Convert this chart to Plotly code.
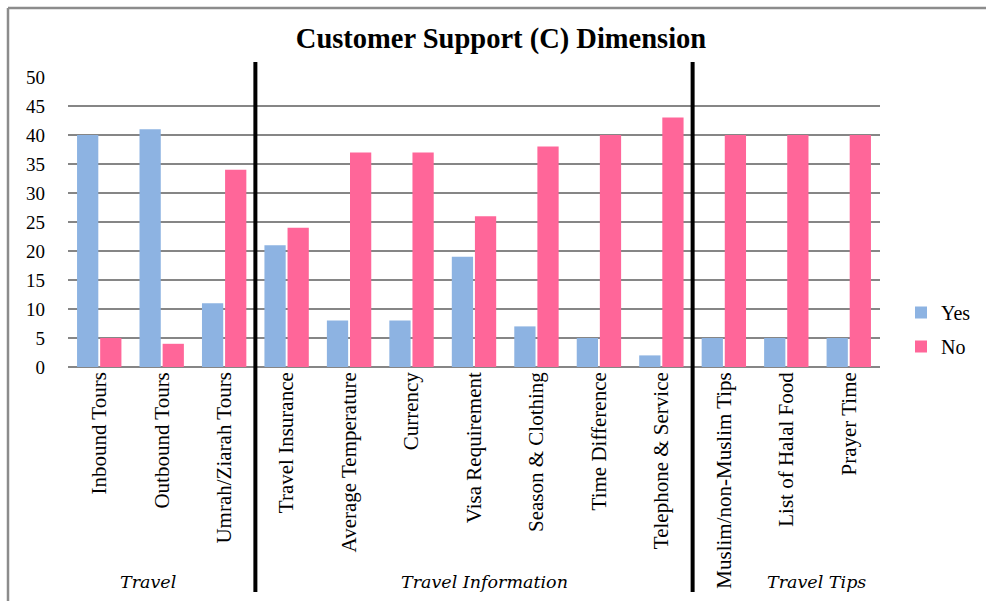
import plotly.graph_objects as go

categories = ["Inbound Tours", "Outbound Tours", "Umrah/Ziarah Tours", "Travel Insurance",
              "Average Temperature", "Currency", "Visa Requirement", "Season & Clothing",
              "Time Difference", "Telephone & Service", "Muslim/non-Muslim Tips",
              "List of Halal Food", "Prayer Time"]
yes_vals = [40, 41, 11, 21, 8, 8, 19, 7, 5, 2, 5, 5, 5]
no_vals = [5, 4, 34, 24, 37, 37, 26, 38, 40, 43, 40, 40, 40]
group_labels = ["Travel", "Travel Information", "Travel Tips"]
group_pos = [0.78, 6.17, 11.48]
separators = [2.5, 9.5]

serif = "Liberation Serif, Times New Roman, serif"

W, H = 986, 601
L, R, T, B = 68, 106, 77, 234
PW, PH = W - L - R, H - T - B


def px_x(p):
    return (p - L) / PW


def px_y(p):
    return (H - B - p) / PH


fig = go.Figure()
fig.add_trace(go.Bar(name="Yes", x=list(range(len(categories))), y=yes_vals, legendgroup="yes",
                     marker=dict(color="#8DB3E2", line=dict(width=0))))
fig.add_trace(go.Bar(name="No", x=list(range(len(categories))), y=no_vals, legendgroup="no",
                     marker=dict(color="#FF6699", line=dict(width=0))))

shapes = []
for s in separators:
    shapes.append(dict(type="line", xref="x", yref="paper", x0=s, x1=s,
                       y0=px_y(592), y1=px_y(62), line=dict(color="black", width=4)))
# outer frame (top and left edges visible)
shapes.append(dict(type="line", xref="paper", yref="paper", x0=px_x(8), x1=px_x(990),
                   y0=px_y(8), y1=px_y(8), line=dict(color="#8c8c8c", width=2.5)))
shapes.append(dict(type="line", xref="paper", yref="paper", x0=px_x(8), x1=px_x(8),
                   y0=px_y(8), y1=px_y(605), line=dict(color="#8c8c8c", width=2.5)))

annotations = []
for lab, pos in zip(group_labels, group_pos):
    annotations.append(dict(text="<i>" + lab + "</i>", x=pos, xref="x", y=px_y(582), yref="paper",
                            showarrow=False,
                            font=dict(family="DejaVu Serif, serif", size=17.5, color="black"),
                            xanchor="center", yanchor="middle"))

fig.update_layout(
    width=W, height=H, autosize=False,
    margin=dict(l=L, r=R, t=T, b=B, autoexpand=False),
    paper_bgcolor="white", plot_bgcolor="white",
    title=dict(text="<b>Customer Support (C) Dimension</b>", x=px_x(501), xref="paper",
               xanchor="center", y=(H - 38) / H, yanchor="middle",
               font=dict(family=serif, size=28.5, color="black")),
    barmode="group", bargap=0.26, bargroupgap=0.08,
    xaxis=dict(tickmode="array", tickvals=list(range(len(categories))), ticktext=categories,
               tickangle=-90, tickfont=dict(family=serif, size=21, color="black"),
               range=[-0.5, 12.5], showgrid=False, showline=False, ticks="", zeroline=False),
    yaxis=dict(range=[0, 50], dtick=5, tickfont=dict(family=serif, size=19, color="black"),
               showgrid=True, gridcolor="#868686", gridwidth=1.5, zeroline=True,
               zerolinecolor="#868686", zerolinewidth=2, showline=False, ticks="",
               ticklabelstandoff=22),
    legend=dict(x=px_x(901), y=px_y(293), xanchor="left", yanchor="top",
                font=dict(family=serif, size=20, color="black"), tracegroupgap=5,
                itemwidth=30),
    shapes=shapes, annotations=annotations, showlegend=True,
)
fig.write_html("out.html",
               config={"displayModeBar": False, "responsive": False},
               post_script="document.documentElement.style.overflow='hidden';"
                           "document.body.style.overflow='hidden';"
                           "document.body.style.margin='0';")
